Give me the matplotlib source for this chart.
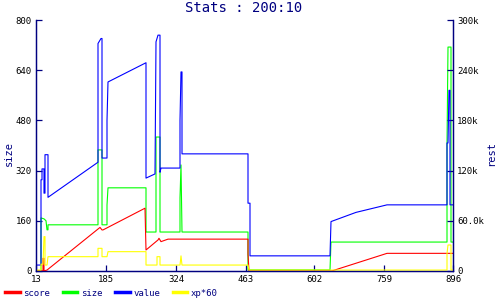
import matplotlib
matplotlib.use('Agg')
import matplotlib.pyplot as plt
from matplotlib.lines import Line2D

# x is the sample number, tick labels show the time at each tick
tick_samples = [0, 70, 140, 210, 278, 348, 417]
tick_labels = ['13', '185', '324', '463', '602', '759', '896']

# size (left axis)
size_x = [0, 5, 5, 8, 10, 11, 12, 12, 62, 62, 66, 66, 71, 71, 72, 110, 110, 120, 120,
          124, 124, 144, 144, 145, 146, 212, 212, 294, 295, 411, 411, 412, 415, 415, 417]
size_y = [0, 0, 169, 166, 160, 131, 131, 147, 147, 386, 386, 147, 147, 210, 265, 265, 124, 124, 427,
          427, 124, 124, 233, 338, 124, 124, 3, 3, 92, 92, 401, 714, 714, 92, 92]

# rest (right axis, thousands)
score_x = [0, 7, 7, 8, 8, 11, 64, 66, 67, 109, 110, 122, 123, 125, 132, 212, 212, 213, 296, 351, 417]
score_y = [0, 0, 15, 15, 0, 1, 52, 49, 49, 75, 25, 37, 39, 35, 38, 38, 20, 0, 0, 21, 21]

value_x = [0, 5, 5, 6, 6, 8, 8, 9, 9, 12, 12, 62, 62, 65, 66, 66, 71, 71, 72, 110, 110, 119, 120,
           122, 124, 124, 125, 144, 144, 145, 146, 146, 212, 212, 214, 214, 294, 295, 320, 351,
           411, 411, 412, 413, 414, 414, 417]
value_y = [7, 7, 109, 109, 122, 122, 93, 93, 139, 139, 88, 130, 272, 278, 278, 135, 135, 180, 226,
           249, 111, 116, 274, 282, 282, 118, 123, 123, 180, 238, 238, 140, 140, 81, 81, 18, 18, 59,
           70, 79, 79, 153, 153, 216, 216, 79, 79]

xp_x = [0, 5, 5, 7, 8, 9, 9, 11, 12, 62, 62, 66, 66, 71, 72, 110, 110, 121, 121, 124, 124,
        144, 145, 146, 212, 213, 411, 411, 412, 415, 415, 417]
xp_y = [1, 1, 8, 8, 41, 41, 7, 7, 17, 17, 27, 27, 17, 17, 23, 23, 7, 7, 17, 17, 7,
        7, 18, 7, 7, 1, 1, 21, 31, 31, 1, 1]

navy = '#000080'
mono = 'DejaVu Sans Mono'

fig = plt.figure(figsize=(5, 3), dpi=100)
ax = fig.add_axes([0.072, 0.097, 0.834, 0.836])
ax2 = ax.twinx()

ax.plot(size_x, size_y, color='#00ff00', lw=0.8)
ax2.plot(score_x, score_y, color='#ff0000', lw=0.8)
ax2.plot(value_x, value_y, color='#0000ff', lw=0.8)
ax2.plot(xp_x, xp_y, color='#ffff00', lw=0.8)

ax.set_xlim(0, 417)
ax.set_ylim(0, 800)
ax2.set_ylim(0, 300)
ax.set_xticks(tick_samples)
ax.set_xticklabels(tick_labels)
ax.set_yticks([0, 160, 320, 480, 640, 800])
ax2.set_yticks([0, 60, 120, 180, 240, 300])
ax2.set_yticklabels(['0', '60.0k', '120k', '180k', '240k', '300k'])

for a in (ax, ax2):
    a.spines['top'].set_visible(False)
    for s in ('left', 'right', 'bottom'):
        a.spines[s].set_color(navy)
        a.spines[s].set_linewidth(0.9)
    a.tick_params(direction='in', length=4, width=0.9, color=navy,
                  labelsize=6.5, labelcolor='black', pad=3)
    for lab in a.get_xticklabels() + a.get_yticklabels():
        lab.set_fontfamily(mono)

# axis titles placed by hand, like the original
fig.text(0.018, 0.49, 'size', rotation=90, ha='center', va='center',
         color=navy, fontsize=7.5, family=mono)
fig.text(0.982, 0.49, 'rest', rotation=90, ha='center', va='center',
         color=navy, fontsize=7.5, family=mono)
fig.suptitle('Stats : 200:10', color=navy, fontsize=10, family=mono, x=0.488, y=0.995)

handles = [Line2D([], [], color=c, lw=2.5) for c in ['#ff0000', '#00ff00', '#0000ff', '#ffff00']]
leg = fig.legend(handles, ['score', 'size', 'value', 'xp*60'], loc='lower left',
                 bbox_to_anchor=(0.0, -0.01), ncol=4, frameon=False,
                 prop={'family': mono, 'size': 6.5}, handlelength=1.6,
                 handletextpad=0.4, columnspacing=1.4, borderaxespad=0.2)
for t in leg.get_texts():
    t.set_color(navy)

fig.savefig('out.png', dpi=100)
